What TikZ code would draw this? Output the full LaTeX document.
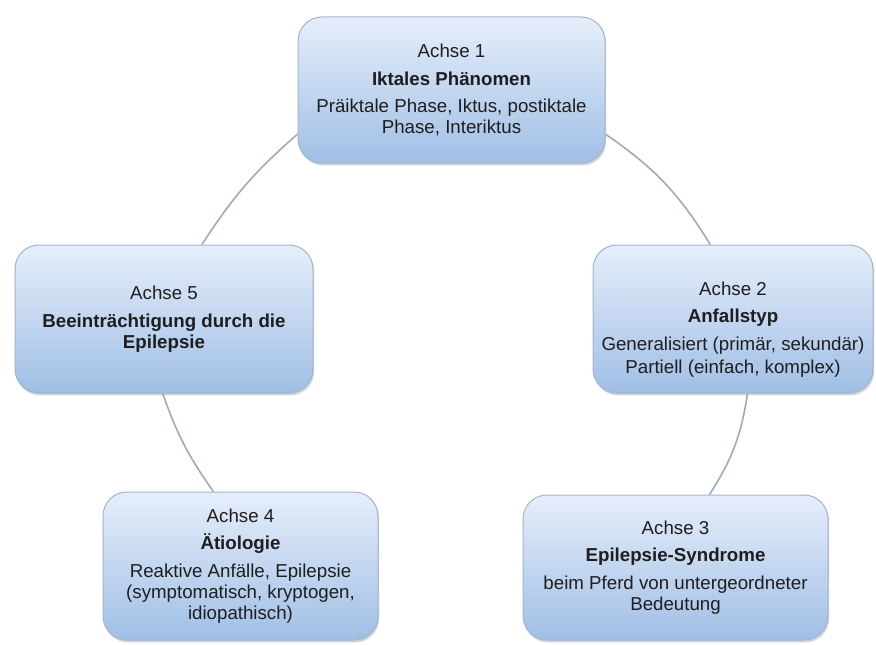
\documentclass[tikz,border=0pt]{standalone}
\usepackage{fontspec}
\setmainfont{Liberation Sans}
\usetikzlibrary{shadows}

\definecolor{boxtop}{RGB}{230,238,250}
\definecolor{boxbot}{RGB}{160,191,229}
\definecolor{boxline}{RGB}{160,180,206}
\definecolor{ringline}{RGB}{158,170,188}
\definecolor{txt}{RGB}{30,30,30}

\begin{document}
\begin{tikzpicture}[x=1pt, y=1pt,
  every node/.style={font=\fontsize{9.35}{10.5}\selectfont, text=txt},
  achse/.style={draw=boxline, line width=0.5pt, rounded corners=12pt, top color=boxtop, bottom color=boxbot,
    align=center, inner sep=0pt, drop shadow={shadow xshift=0.6pt, shadow yshift=-1.2pt, opacity=0.35}},
  ring/.style={draw=ringline, line width=0.8pt}]
\useasboundingbox (0,0) rectangle (438,322);

\node[achse, minimum width=153.5pt, minimum height=73pt] (ax1) at (225.75,277)
  {Achse 1\\[3.25pt]\textbf{Iktales Phänomen}\\[3.25pt]Präiktale Phase, Iktus, postiktale\\Phase, Interiktus};
\node[achse, minimum width=140pt, minimum height=74pt] (ax2) at (366.5,162.5)
  {\raisebox{0pt}[17pt]{Achse 2}\\[3.25pt]\textbf{Anfallstyp}\\[3.25pt]Generalisiert (primär, sekundär)\\[1pt]Partiell (einfach, komplex)};
\node[achse, minimum width=152.5pt, minimum height=72.5pt] (ax3) at (337.75,38.25)
  {Achse 3\\[3.25pt]\textbf{Epilepsie-Syndrome}\\[3.25pt]beim Pferd von untergeordneter\\Bedeutung};
\node[achse, minimum width=137.5pt, minimum height=74pt] (ax4) at (120.25,39)
  {Achse 4\\[3.25pt]\textbf{Ätiologie}\\[3.25pt]Reaktive Anfälle, Epilepsie\\(symptomatisch, kryptogen,\\idiopathisch)};
\node[achse, minimum width=149pt, minimum height=74pt] (ax5) at (82,162.5)
  {Achse 5\\[3.25pt]\textbf{Beeinträchtigung durch die}\\\textbf{Epilepsie}};

% ring between the axes
\draw[ring] (ax1.196) to[bend right=8] (ax5.63);
\draw[ring] (ax5.269) to[bend right=8] (ax4.110);
\draw[ring] (ax3.65) to[bend right=12] (ax2.281);
\draw[ring] (ax2.107) to[bend right=12] (ax1.344);
\end{tikzpicture}
\end{document}
